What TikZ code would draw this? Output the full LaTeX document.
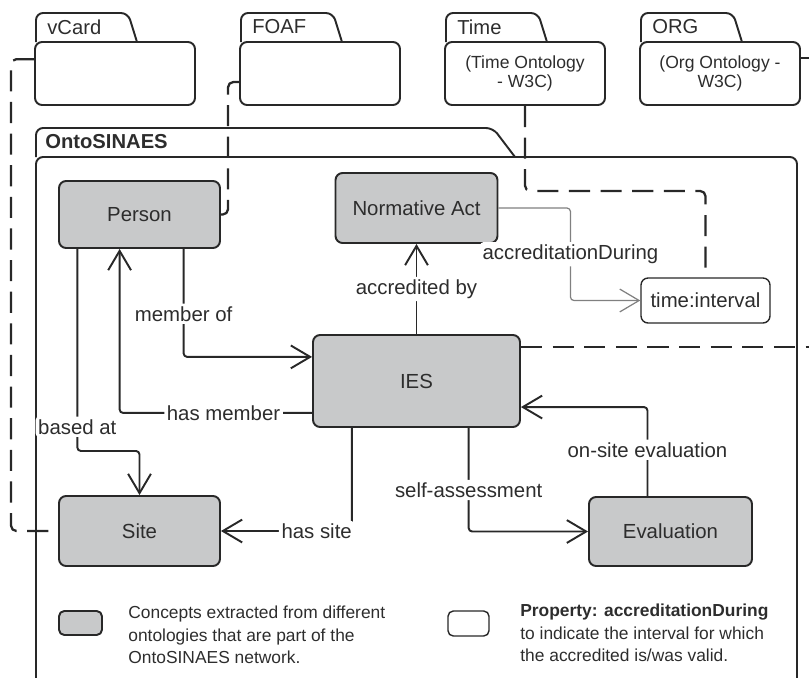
\documentclass[tikz,border=0pt]{standalone}
\usepackage{fontspec}
\setmainfont{Liberation Sans}
\usepackage{tikz}
\usetikzlibrary{arrows.meta}
\definecolor{conceptgray}{RGB}{200,201,202}
\definecolor{linegray}{RGB}{40,40,40}
\definecolor{textgray}{RGB}{45,45,45}

\begin{document}
\begin{tikzpicture}[x=0.02cm,y=-0.02cm,line join=round]
            \tikzstyle{concept}=[rectangle,rounded corners=4pt,draw=linegray,line width=1.1pt,fill=conceptgray,text=textgray,font=\fontsize{11.6}{14}\selectfont,inner sep=0pt]
            \tikzstyle{pkg}=[draw=linegray,line width=1.1pt,rounded corners=4pt]
            \tikzstyle{pkgbody}=[pkg,rectangle,minimum width=3.2cm,minimum height=1.26cm,inner sep=0pt,align=center,text=textgray,font=\fontsize{10}{11.3}\selectfont]
            \tikzstyle{tab}=[anchor=west,inner sep=0pt,text=textgray,font=\fontsize{11.5}{14}\selectfont]
            \tikzstyle{lbl}=[fill=white,text=textgray,font=\fontsize{11.6}{14}\selectfont,inner sep=1.5pt]
            \tikzstyle{rel}=[draw=linegray,line width=1.1pt,rounded corners=2pt,-{Straight Barb[length=11pt,width=13pt]}]
            \tikzstyle{link}=[draw=linegray,line width=1.3pt,dash pattern=on 12pt off 6pt,rounded corners=3pt]
            \tikzstyle{key}=[anchor=west,align=left,inner sep=0pt,text=textgray,font=\fontsize{9.9}{12.8}\selectfont]

            \useasboundingbox (0,0) rectangle (809,677);
            \clip (0,0) rectangle (809,677);

            \foreach \id/\name/\x/\txt in {vcard/vCard/36/{}, foaf/FOAF/241/{}, time/Time/446/{(Time Ontology\\- W3C)}, org/ORG/641/{(Org Ontology -\\W3C)}}
            {
                \draw[pkg] (\x,42) -- (\x,13) -- ({\x+92},13) -- ({\x+101},42);
                \node[pkgbody] (\id) at ({\x+79},73.5) {\txt};
                \node[tab] (\id-tab) at ({\x+11},27) {\name};
            }

            \draw[pkg] (36,157) -- (36,128) -- (493,128) -- (515,157);
            \draw[pkg] (36,700) -- (36,157) -- (797,157) -- (797,700);
            \node[tab,font=\bfseries\fontsize{11.5}{14}\selectfont] (onto) at (45,142) {OntoSINAES};

            \node[concept,minimum width=3.22cm,minimum height=1.34cm] (person) at (139.5,214.5) {Person};
            \node[concept,minimum width=3.24cm,minimum height=1.4cm] (act) at (416.5,208) {Normative Act};
            \node[concept,minimum width=4.14cm,minimum height=1.84cm] (ies) at (416.5,381) {IES};
            \node[concept,minimum width=3.22cm,minimum height=1.4cm] (site) at (139.5,531) {Site};
            \node[concept,minimum width=3.26cm,minimum height=1.38cm] (evaluation) at (670.5,531.5) {Evaluation};
            \node[concept,fill=white,line width=0.8pt,minimum width=2.58cm,minimum height=0.9cm] (interval) at (705.5,300.5) {time:interval};

            \draw[rel] (person.-38) |- node[lbl,pos=0.3]{member of} (ies.167);
            \draw[rel] (ies.197) -| node[lbl,pos=0.23]{has member} (person.-120);
            \draw[rel] (person.-151) -- node[lbl,pos=0.88]{based at} ++(0,202) -| (site.north);
            \draw[rel] (ies.-144) |- node[lbl,pos=0.5,anchor=east,xshift=2pt]{has site} (site.east);
            \draw[rel] (ies.-42) |- node[lbl,pos=0.3]{self-assessment} (evaluation.west);
            \draw[rel] (evaluation.123) |- node[lbl,pos=0.26]{on-site evaluation} (ies.-14);
            \draw[rel] (ies.north) -- node[lbl]{accredited by} (act.south);
            \draw[rel,draw=gray,line width=0.7pt] (act.east) -- ++(72,0) |- node[lbl,pos=0.25]{accreditationDuring} (interval.west);

            \draw[link] (vcard.170) -- ++(-23,0) |- (site.west);
            \draw[link] (foaf.186) -- ++(-11,0) |- (person.east);
            \draw[link] (time.south) -- ++(0,85) -| (interval.north);
            \draw[link] (ies.18) -- ++(300,0);
            \draw[link] (org.11) -- ++(20,0);

            \node[concept,rounded corners=3pt,minimum width=0.86cm,minimum height=0.48cm] (key-concept) at (80.5,623) {};
            \node[concept,rounded corners=3pt,fill=white,line width=0.8pt,minimum width=0.82cm,minimum height=0.5cm] (key-property) at (468.5,623.5) {};
            \node[key] (key-concept-text) at (128,635) {Concepts extracted from different\\ontologies that are part of the\\OntoSINAES network.};
            \node[key] (key-property-text) at (520,633) {\textbf{Property: accreditationDuring}\\to indicate the interval for which\\the accredited is/was valid.};
        \end{tikzpicture}
\end{document}
